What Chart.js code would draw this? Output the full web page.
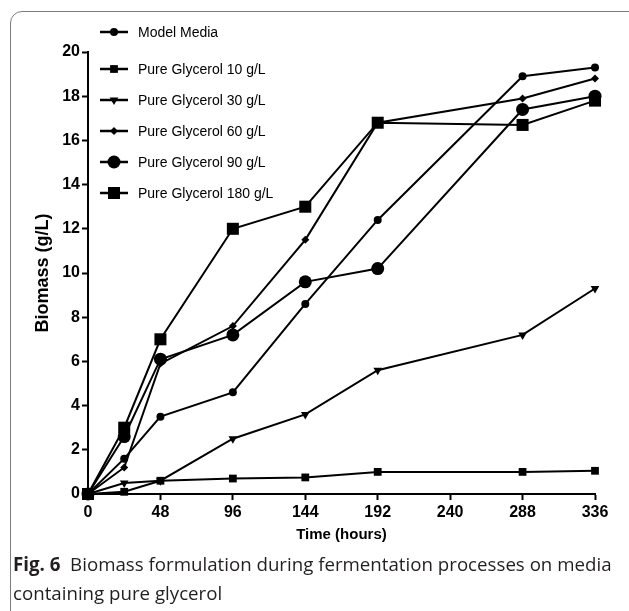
<!DOCTYPE html>
<html>
<head>
<meta charset="utf-8">
<script src="https://cdn.jsdelivr.net/npm/chart.js@4.4.0/dist/chart.umd.min.js"></script>
<style>
  html, body { margin: 0; padding: 0; background: #fff; }
  #wrap { position: relative; width: 629px; height: 611px; overflow: hidden; }
  #frame { position: absolute; left: 10px; top: 11px; width: 640px; height: 620px;
           border: 1.5px solid #7d7d7d; border-radius: 12px; box-sizing: border-box; }
  #chart { position: absolute; left: 0; top: 0; }
  #caption { position: absolute; left: 13px; top: 549px; white-space: nowrap;
             font-family: 'Open Sans', sans-serif; font-size: 18.7px; line-height: 29px; color: #231f20; }
</style>
</head>
<body>
<div id="wrap">
  <div id="frame"></div>
  <canvas id="chart" width="629" height="611"></canvas>
  <div id="caption"><b>Fig. 6</b>&nbsp; Biomass formulation during fermentation processes on media<br>containing pure glycerol</div>
</div>
<script>
'use strict';

// 데이터
const hours = [0, 24, 48, 96, 144, 192, 288, 336];
const seriesNames = ['Model Media', 'Pure Glycerol 10 g/L', 'Pure Glycerol 30 g/L',
  'Pure Glycerol 60 g/L', 'Pure Glycerol 90 g/L', 'Pure Glycerol 180 g/L'];
const modelMedia = [0, 1.6, 3.5, 4.6, 8.6, 12.4, 18.9, 19.3];
const glycerol10 = [0, 0.1, 0.6, 0.7, 0.75, 1.0, 1.0, 1.05];
const glycerol30 = [0, 0.5, 0.6, 2.5, 3.6, 5.6, 7.2, 9.3];
const glycerol60 = [0, 1.2, 5.9, 7.6, 11.5, 16.8, 17.9, 18.8];
const glycerol90 = [0, 2.6, 6.1, 7.2, 9.6, 10.2, 17.4, 18.0];
const glycerol180 = [0, 3.0, 7.0, 12.0, 13.0, 16.8, 16.7, 17.8];
const xTicks = [0, 48, 96, 144, 192, 240, 288, 336];

const FONT = "'Liberation Sans', Arial, sans-serif";

// 마커 스타일
const markers = [
  { pointStyle: 'circle', pointRadius: 4, pointRotation: 0 },
  { pointStyle: 'rect', pointRadius: 5.5, pointRotation: 0 },
  { pointStyle: 'triangle', pointRadius: 5, pointRotation: 180 },
  { pointStyle: 'rectRot', pointRadius: 4, pointRotation: 0 },
  { pointStyle: 'circle', pointRadius: 6.5, pointRotation: 0 },
  { pointStyle: 'rect', pointRadius: 8.5, pointRotation: 0 },
];
const allSeries = [modelMedia, glycerol10, glycerol30, glycerol60, glycerol90, glycerol180];

const datasets = allSeries.map((vals, i) => ({
  label: seriesNames[i],
  data: vals.map((v, j) => ({ x: hours[j], y: v })),
  borderColor: '#000',
  backgroundColor: '#000',
  borderWidth: 2,
  pointBackgroundColor: '#000',
  pointBorderColor: '#000',
  pointBorderWidth: 0,
  pointHoverRadius: markers[i].pointRadius,
  tension: 0,
  clip: false,
  ...markers[i],
}));

// 범례 (선 + 마커)
const figLegend = {
  id: 'figLegend',
  afterDraw(chart) {
    const c = chart.ctx;
    chart.data.datasets.forEach((ds, i) => {
      const y = i === 0 ? 32 : 69 + (i - 1) * 31;
      c.save();
      c.strokeStyle = '#000';
      c.lineWidth = 2.5;
      c.beginPath();
      c.moveTo(100, y);
      c.lineTo(128, y);
      c.stroke();
      c.fillStyle = '#000';
      Chart.helpers.drawPoint(c, {
        pointStyle: ds.pointStyle,
        rotation: ds.pointRotation,
        radius: ds.pointRadius,
        borderWidth: 0,
      }, 114, y);
      c.font = '14px ' + FONT;
      c.textBaseline = 'middle';
      c.fillText(ds.label, 138, y + 1);
      c.restore();
    });
  }
};

new Chart(document.getElementById('chart').getContext('2d'), {
  type: 'line',
  data: { datasets },
  plugins: [figLegend],
  options: {
    responsive: false,
    animation: false,
    events: [],
    layout: { padding: { left: 0, top: 52, right: 34, bottom: 62 } },
    plugins: { legend: { display: false }, tooltip: { enabled: false } },
    scales: {
      x: {
        type: 'linear',
        min: 0,
        max: 336,
        afterBuildTicks(scale) { scale.ticks = xTicks.map(v => ({ value: v })); },
        afterFit(scale) { scale.height = 55; },
        ticks: { color: '#000', font: { family: FONT, size: 16, weight: 'bold' }, padding: 3, maxRotation: 0 },
        grid: { drawOnChartArea: false, drawTicks: true, tickLength: 6, tickColor: '#000', tickWidth: 2 },
        border: { color: '#000', width: 2 },
        title: {
          display: true, text: 'Time (hours)', color: '#000',
          font: { family: FONT, size: 15, weight: 'bold' }, padding: { top: 0, bottom: 5 },
        },
      },
      y: {
        min: 0,
        max: 20,
        ticks: { stepSize: 2, color: '#000', font: { family: FONT, size: 16, weight: 'bold' }, padding: 2 },
        afterFit(scale) { scale.width = 88; },
        grid: { drawOnChartArea: false, drawTicks: true, tickLength: 6, tickColor: '#000', tickWidth: 2 },
        border: { color: '#000', width: 2 },
        title: {
          display: true, text: 'Biomass (g/L)', color: '#000',
          font: { family: FONT, size: 18, weight: 'bold' }, padding: { top: 32, bottom: 0 },
        },
      },
    },
  },
});
</script>
</body>
</html>
